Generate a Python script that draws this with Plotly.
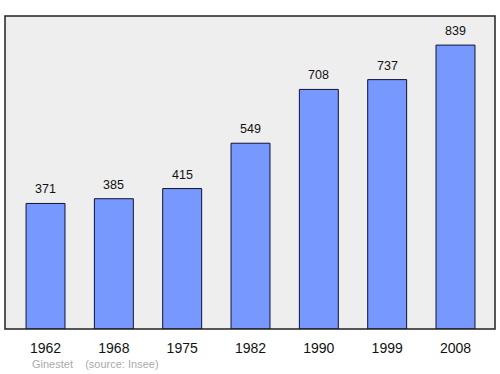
import plotly.graph_objects as go

years = ["1962", "1968", "1975", "1982", "1990", "1999", "2008"]
population = [371, 385, 415, 549, 708, 737, 839]
positions = list(range(len(years)))

font_family = "Liberation Sans, Arial, sans-serif"

fig = go.Figure()
fig.add_trace(go.Bar(
    x=positions, y=population, width=0.57,
    marker=dict(color="#7799ff", line=dict(color="#111133", width=1)),
    hoverinfo="skip",
))

annotations = [dict(x=p, y=v, xref="x", yref="y", text=str(v), showarrow=False,
                    yanchor="bottom", yshift=5,
                    font=dict(family=font_family, size=12.5, color="#111111"))
               for p, v in zip(positions, population)]
annotations.append(dict(x=0.05, y=-0.113, xref="paper", yref="paper", xanchor="left", yanchor="middle",
                        showarrow=False, text="Ginestet&nbsp;&nbsp;&nbsp;&nbsp;(source: Insee)",
                        font=dict(family=font_family, size=11, color="#aaaaaa")))

fig.update_layout(
    width=500, height=374,
    margin=dict(l=5, r=5, t=16, b=45),
    paper_bgcolor="white", plot_bgcolor="#eeeeee",
    showlegend=False,
    xaxis=dict(range=[-0.593, 6.578], tickvals=positions, ticktext=years,
               showgrid=False, zeroline=False, ticks="", ticklabelstandoff=9,
               tickfont=dict(family=font_family, size=14, color="#111111")),
    yaxis=dict(range=[0, 925], showgrid=False, zeroline=False, showticklabels=False),
    annotations=annotations,
    shapes=[dict(type="rect", xref="paper", yref="paper", x0=0, y0=0, x1=1, y1=1,
                 line=dict(color="#222222", width=1.5))],
)

fig.write_html("out.html")
